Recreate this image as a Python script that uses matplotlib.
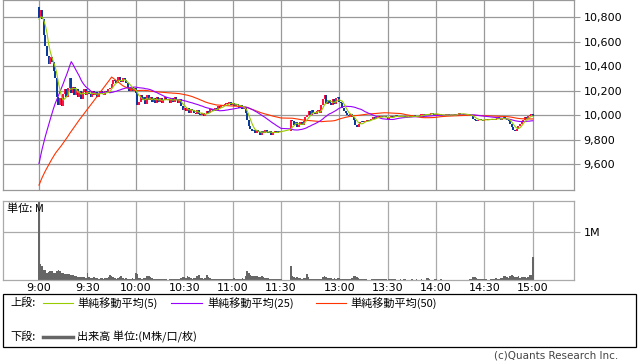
import numpy as np
import matplotlib.pyplot as plt
from matplotlib.patches import Rectangle
from matplotlib.lines import Line2D

# 前日終盤の1分足終値(移動平均の計算用)
prev_close = [9230, 9240, 9250, 9260, 9240, 9250, 9270, 9260, 9240, 9250,
              9230, 9250, 9260, 9270, 9250, 9240, 9260, 9250, 9240, 9260,
              9250, 9270, 9240, 9250, 9260,
              9300, 9310, 9320, 9300, 9310, 9320, 9310, 9300, 9310, 9320,
              9310, 9300, 9320, 9310, 9300, 9310, 9320, 9310, 9300, 9320,
              10770, 10780, 10790, 10780]

first_open = 10880

# 前場 9:00-11:30 終値
am_close = [10790, 10860, 10780, 10650, 10560, 10480, 10420, 10470, 10430, 10360,
            10300, 10150, 10080, 10140, 10070, 10170, 10210, 10150, 10220, 10300,
            10180, 10230, 10160, 10210, 10150, 10200, 10130, 10190, 10210, 10160,
            10200, 10170, 10150, 10200, 10160, 10190, 10150, 10170, 10200, 10170,
            10160, 10200, 10180, 10210, 10220, 10250, 10290, 10280, 10260, 10310,
            10280, 10270, 10300, 10290, 10260, 10220, 10200, 10230, 10200, 10220,
            10180, 10080, 10110, 10160, 10120, 10150, 10090, 10160, 10120, 10150,
            10110, 10140, 10100, 10150, 10110, 10140, 10100, 10120, 10150, 10120,
            10130, 10100, 10140, 10110, 10150, 10120, 10100, 10130, 10070, 10040,
            10060, 10030, 10060, 10020, 10050, 10040, 10020, 10010, 10040, 10010,
            10000, 10020, 9990, 10010, 10030, 10020, 10050, 10040, 10030, 10060,
            10040, 10070, 10060, 10080, 10070, 10090, 10100, 10090, 10110, 10080,
            10100, 10070, 10090, 10080, 10060, 10080, 10050, 10060, 10020, 9960,
            9910, 9890, 9870, 9880, 9850, 9880, 9860, 9840, 9870, 9850,
            9880, 9860, 9850, 9870, 9840, 9860, 9870, 9850, 9870, 9860,
            9870]

# 後場 12:30-15:00 終値
pm_close = [9960, 9950, 9920, 9940, 9900, 9920, 9940, 9920, 9950, 9980,
            10000, 10030, 10000, 10040, 10020, 10010, 10030, 10040, 10020, 10080,
            10130, 10160, 10090, 10120, 10100, 10080, 10130, 10090, 10140, 10150,
            10110, 10100, 10060, 10030, 10020, 10000, 9990, 10010, 9980, 9960,
            9920, 9900, 9930, 9940, 9950, 9940, 9950, 9960, 9950, 9960,
            9970, 9980, 9970, 9980, 9990, 9980, 9990, 9980, 9990, 9980,
            9970, 9980, 9990, 9980, 9990, 10000, 9990, 9980, 9990, 9980,
            9990, 9980, 9990, 9990, 9980, 9990, 10000, 9990, 9980, 9990,
            10000, 10000, 10010, 10000, 10010, 10000, 10010, 10020, 10010, 10000,
            10010, 10000, 10010, 10000, 9990, 10000, 10000, 10010, 10000, 9990,
            10000, 10010, 10000, 10010, 10020, 10010, 10000, 10010, 10000, 10010,
            10000, 9990, 10000, 9970, 9960, 9950, 9960, 9970, 9960, 9950,
            9960, 9970, 9960, 9970, 9960, 9970, 9960, 9970, 9980, 9970,
            9960, 9970, 9980, 9970, 9960, 9950, 9930, 9900, 9880, 9870,
            9890, 9910, 9930, 9950, 9960, 9980, 9970, 9990, 10000, 10010,
            9990]

# 出来高(千株)
am_vol = [2500, 330, 300, 210, 200, 150, 160, 190, 180, 150,
          140, 190, 200, 180, 150, 140, 130, 120, 120, 130,
          100, 110, 80, 90, 70, 60, 60, 70, 60, 50,
          150, 60, 50, 40, 60, 40, 40, 30, 40, 40,
          30, 40, 50, 60, 100, 90, 60, 40, 30, 40,
          60, 80, 50, 30, 40, 30, 20, 30, 40, 30,
          140, 130, 50, 40, 30, 50, 40, 80, 80, 70,
          40, 30, 30, 20, 30, 20, 30, 20, 20, 20,
          10, 20, 20, 20, 30, 30, 30, 20, 40, 60,
          60, 40, 80, 60, 40, 30, 40, 50, 90, 100,
          50, 40, 30, 40, 110, 70, 40, 30, 20, 20,
          30, 20, 20, 30, 20, 30, 20, 30, 20, 30,
          30, 40, 30, 20, 30, 30, 40, 30, 80, 180,
          150, 100, 90, 90, 80, 90, 70, 60, 80, 60,
          50, 40, 40, 30, 30, 20, 30, 20, 30, 20,
          30]

pm_vol = [290, 80, 70, 50, 60, 40, 40, 30, 40, 40,
          120, 60, 30, 30, 20, 30, 20, 30, 20, 30,
          60, 80, 60, 40, 50, 40, 30, 40, 30, 40,
          40, 30, 30, 20, 30, 20, 30, 20, 50, 80,
          80, 70, 50, 30, 30, 20, 20, 20, 10, 10,
          20, 20, 30, 30, 20, 20, 20, 30, 20, 20,
          10, 20, 20, 30, 20, 20, 10, 10, 20, 10,
          30, 20, 10, 10, 10, 20, 10, 10, 20, 10,
          10, 20, 10, 10, 40, 50, 20, 10, 10, 30,
          20, 10, 10, 20, 10, 10, 10, 10, 0, 0,
          10, 0, 10, 0, 10, 0, 10, 10, 0, 0,
          10, 20, 30, 70, 60, 40, 30, 20, 20, 30,
          20, 20, 10, 10, 20, 20, 30, 40, 30, 30,
          40, 50, 80, 90, 60, 50, 90, 100, 80, 60,
          70, 80, 50, 60, 60, 70, 50, 60, 100, 110,
          480]

time_labels = ['9:00', '9:30', '10:00', '10:30', '11:00', '11:30',
               '13:00', '13:30', '14:00', '14:30', '15:00']
price_ticks = [9600, 9800, 10000, 10200, 10400, 10600, 10800]

# 昼休みを詰めた分単位の横位置
lunch_gap = 156
x = np.r_[np.arange(len(am_close)), lunch_gap + np.arange(len(pm_close))]
time_pos = [0, 30, 60, 90, 120, 150, lunch_gap + 30, lunch_gap + 60,
            lunch_gap + 90, lunch_gap + 120, lunch_gap + 150]

close = np.array(am_close + pm_close, dtype=float)
opens = np.r_[first_open, close[:-1]]
vol = np.array(am_vol + pm_vol) / 1000.0
full = np.r_[prev_close, close]


def sma(n):
    return np.convolve(full, np.ones(n) / n, 'valid')[-len(close):]


W, H = 638, 362


def fx(px):
    return px / W


def fy(py):
    return 1 - py / H


jp = ['Noto Sans CJK JP', 'DejaVu Sans']
grid_c = '#999999'

fig = plt.figure(figsize=(W / 100, H / 100), dpi=100)
ax = fig.add_axes([fx(3), fy(190), fx(574) - fx(3), fy(0) - fy(190)])
axv = fig.add_axes([fx(3), fy(280), fx(574) - fx(3), fy(201) - fy(280)])

xlim = (-22.3, 331.5)

# ローソク足
up = close >= opens
body_lo = np.minimum(opens, close)
body_h = np.maximum(np.abs(close - opens), 6)
ax.bar(x, body_h, bottom=body_lo, width=1.25, linewidth=0,
       color=np.where(up, '#ff1144', '#0a3a9a'), zorder=2)

ax.plot(x, sma(50), color='#ff3300', lw=0.8, zorder=3)
ax.plot(x, sma(25), color='#9900ff', lw=0.8, zorder=3)
ax.plot(x, sma(5), color='#99cc00', lw=0.8, zorder=4)

ax.set_xlim(*xlim)
ax.set_ylim(9388, 10939)
ax.set_xticks(time_pos)
ax.set_xticklabels([])
ax.set_yticks(price_ticks)
ax.set_yticklabels([f'{v:,}' for v in price_ticks])
ax.yaxis.tick_right()
ax.tick_params(axis='x', length=0)
ax.tick_params(axis='y', length=4, color=grid_c, labelsize=8, pad=3)
ax.grid(True, color=grid_c, lw=0.9)
ax.set_axisbelow(True)
for s in ax.spines.values():
    s.set_color(grid_c)
    s.set_linewidth(0.9)

# 出来高
axv.bar(x, vol, width=1.0, color='#666666', linewidth=0, zorder=2)
axv.set_xlim(*xlim)
axv.set_ylim(0, 1.646)
axv.set_xticks(time_pos)
axv.set_xticklabels(time_labels)
axv.set_yticks([1])
axv.set_yticklabels(['1M'])
axv.yaxis.tick_right()
axv.tick_params(axis='x', length=0, labelsize=8, pad=2)
axv.tick_params(axis='y', length=4, color='#aaaaaa', labelsize=8, pad=3)
axv.grid(True, color='#aaaaaa', lw=0.9)
axv.set_axisbelow(True)
for s in axv.spines.values():
    s.set_color('#aaaaaa')
    s.set_linewidth(0.9)
axv.text(fx(8) - fx(3), 0.9, '単位: M', transform=axv.transAxes,
         family=jp, fontsize=8, ha='left', va='center', zorder=5)

# 凡例
fig.add_artist(Rectangle((fx(3), fy(347)), fx(636) - fx(3), fy(294) - fy(347),
                         transform=fig.transFigure, fill=False,
                         ec='black', lw=0.9))
row1, row2 = 303, 337
fig.text(fx(10), fy(row1), '上段:', family=jp, fontsize=8, va='center')
legend_items = [(43, 73, 77, '#99cc00', '単純移動平均(5)'),
                (171, 202, 207, '#9900ff', '単純移動平均(25)'),
                (316, 346, 350, '#ff3300', '単純移動平均(50)')]
for x0, x1, tx, c, label in legend_items:
    fig.add_artist(Line2D([fx(x0), fx(x1)], [fy(row1), fy(row1)],
                          transform=fig.transFigure, color=c, lw=0.8))
    fig.text(fx(tx), fy(row1), label, family=jp, fontsize=8, va='center')

fig.text(fx(10), fy(row2), '下段:', family=jp, fontsize=8, va='center')
fig.add_artist(Line2D([fx(43), fx(73)], [fy(row2), fy(row2)],
                      transform=fig.transFigure, color='#666666', lw=2.5))
fig.text(fx(77), fy(row2), '出来高 単位:(M株/口/枚)', family=jp, fontsize=8,
         va='center')

fig.text(fx(618), fy(356), '(c)Quants Research Inc.', fontsize=7.5,
         color='#444444', ha='right', va='center')

fig.savefig('out.png', dpi=100, facecolor='white')
